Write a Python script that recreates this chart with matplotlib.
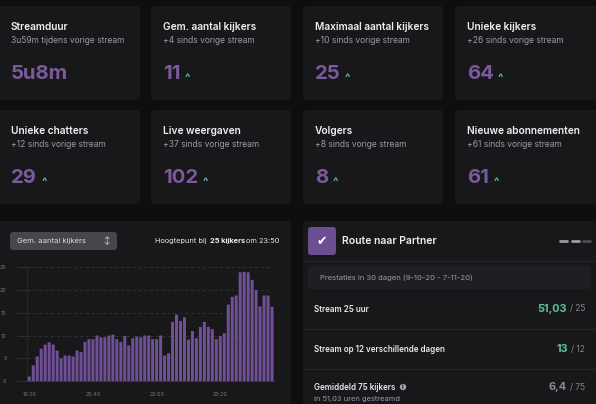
import matplotlib
matplotlib.use('Agg')
import matplotlib.pyplot as plt
from matplotlib.patches import FancyBboxPatch

plt.rcParams['font.family'] = ['Inter', 'DejaVu Sans']

# Stat cards
card_titles = ['Streamduur', 'Gem. aantal kijkers', 'Maximaal aantal kijkers', 'Unieke kijkers',
               'Unieke chatters', 'Live weergaven', 'Volgers', 'Nieuwe abonnementen']
card_subs = ['3u59m tijdens vorige stream', '+4 sinds vorige stream', '+10 sinds vorige stream',
             '+26 sinds vorige stream', '+12 sinds vorige stream', '+37 sinds vorige stream',
             '+8 sinds vorige stream', '+61 sinds vorige stream']
card_values = ['5u8m', '11', '25', '64', '29', '102', '8', '61']

# Viewer chart
viewers = [1, 3.4, 5.4, 7.1, 8, 8.5, 8, 6.7, 5, 5.6, 5.6, 5.4, 6.7, 6.4, 8.6, 9.2, 9.2, 10, 9.6,
           9.6, 10, 10.2, 9.2, 8.6, 9.9, 7.8, 9.4, 9.8, 9.6, 10, 10, 9.2, 9.2, 10, 5.6, 6.1, 13, 14.6,
           13.2, 14, 9.1, 11, 9.4, 11.9, 13, 11.9, 11.4, 9.2, 9.9, 10.5, 16.8, 18.5, 18.8, 23.9, 24,
           23.9, 22.2, 20, 16.4, 18.8, 18.8, 16.3]
y_ticks = [0, 5, 10, 15, 20, 25]
x_tick_pos = [0, 16, 32, 48]
x_tick_labels = ['19:20', '20:40', '22:00', '23:20']

# Partner panel
goal_labels = ['Stream 25 uur', 'Stream op 12 verschillende dagen', 'Gemiddeld 75 kijkers']
goal_values = ['51,03', '13', '6,4']
goal_targets = ['/ 25', '/ 12', '/ 75']

BG = '#0e0e10'
CARD = '#18181b'
PURPLE = '#7a5a9c'
GREEN = '#5fbfa0'
W, H = 596, 404

fig = plt.figure(figsize=(W / 100, H / 100), dpi=100, facecolor=BG)
# pixel coordinates for the page layout, y down
ui = fig.add_axes([0, 0, 1, 1])
ui.set_xlim(0, W)
ui.set_ylim(H, 0)
ui.axis('off')


def box(x, y, w, h, color=CARD, r=3):
    ui.add_patch(FancyBboxPatch((x + r, y + r), w - 2 * r, h - 2 * r,
                                boxstyle='round,pad=%d' % r, fc=color, ec='none'))


card_x = [-5, 151, 303, 455]
text_x = [11, 163, 315, 467]
card_w = [145, 140, 140, 146]
card_y = [6, 110]
for i in range(8):
    col = i % 4
    row = i // 4
    y0 = card_y[row]
    box(card_x[col], y0, card_w[col], 94)
    ui.text(text_x[col], y0 + 20.5, card_titles[i], color='#efeff1', fontsize=7.3, fontweight='semibold', va='center')
    ui.text(text_x[col], y0 + 34.5, card_subs[i], color='#9a9aa2', fontsize=6.1, va='center')
    val = ui.text(text_x[col], y0 + 68, card_values[i], color=PURPLE, fontsize=14.6, fontweight='bold', va='center')
    if i > 0:
        bb = val.get_window_extent(fig.canvas.get_renderer())
        ui.text(bb.x1 + 7, y0 + 72, '^', color=GREEN, fontsize=8, fontweight='bold', va='center', ha='center')

# chart panel
box(-5, 221, 296, 190)
box(10, 232, 107, 18, color='#47474b')
ui.text(17, 241, 'Gem. aantal kijkers', color='#dcdce0', fontsize=5.5, va='center')
ui.text(106, 241, '\u2195', color='#dcdce0', fontsize=5.5, va='center', ha='center')
ui.text(155, 241, 'Hoogtepunt bij', color='#e8e8ea', fontsize=5.3, va='center')
ui.text(209.5, 241, '25 kijkers', color='#efeff1', fontsize=5.3, fontweight='bold', va='center')
ui.text(246.5, 241, 'om 23:50', color='#e8e8ea', fontsize=5.3, va='center')

ax = fig.add_axes([27.3 / W, 1 - 381 / H, (274 - 27.3) / W, (381 - 267.3) / H])
ax.patch.set_alpha(0)
bars = ax.bar(range(len(viewers)), viewers, width=0.76, color='#6f4f96', linewidth=0, zorder=3)
for b in bars:
    b.set_snap(False)
ax.set_xlim(-0.5, len(viewers) - 0.5)
ax.set_ylim(0, 25)
ax.set_yticks(y_ticks)
ax.set_xticks(x_tick_pos)
ax.set_xticklabels(x_tick_labels)
ax.tick_params(colors='#77777c', labelsize=3.9, length=0)
ax.tick_params(axis='x', pad=8)
ax.tick_params(axis='y', pad=8, length=7, color='#333337', width=0.6)
ax.yaxis.grid(True, color='#333337', linestyle=(0, (4, 3)), linewidth=0.6)
ax.set_axisbelow(True)
for s in ['top', 'right']:
    ax.spines[s].set_visible(False)
ax.spines['left'].set_color('#2a2a2e')
ax.spines['left'].set_linewidth(0.6)
ax.spines['bottom'].set_color('#3a3a3e')
ax.spines['bottom'].set_linewidth(0.8)

# partner panel
box(303, 221, 300, 190)
box(308, 227, 28, 28, color='#6c4f93', r=3)
ui.text(322, 241, '\u2714', color='white', fontsize=9, va='center', ha='center', family='DejaVu Sans')
ui.text(342, 241, 'Route naar Partner', color='#efeff1', fontsize=7.5, fontweight='semibold', va='center')
for px, col in zip([559, 570.5, 582], ['#9a9a9f', '#9a9a9f', '#4b4b50']):
    ui.plot([px + 1, px + 8], [240.7, 240.7], color=col, lw=2, solid_capstyle='round')
ui.plot([303, 596], [260.5, 260.5], color='#26262a', lw=0.8)
box(308, 266, 283, 23, color='#1f1f23')
ui.text(320, 277.5, 'Prestaties in 30 dagen (9-10-20 - 7-11-20)', color='#9a9aa2', fontsize=5.5, va='center')

goal_y = [309, 349.5, 387.5]
goal_colors = [GREEN, GREEN, '#8a8a90']
for i in range(3):
    ui.text(314, goal_y[i], goal_labels[i], color='#e8e8ea', fontsize=5.8, fontweight='semibold', va='center')
    t = ui.text(585, goal_y[i], goal_targets[i], color='#85858b', fontsize=6, va='center', ha='right')
    bb = t.get_window_extent(fig.canvas.get_renderer())
    ui.text(bb.x0 - 3, goal_y[i] - 0.5, goal_values[i], color=goal_colors[i], fontsize=7.8,
            fontweight='bold', va='center', ha='right')
for ly in [329, 369]:
    ui.plot([303, 596], [ly, ly], color='#26262a', lw=0.8)
ui.text(314, 398.5, 'in 51,03 uren gestreamd', color='#9a9aa2', fontsize=5.4, va='center')
ui.add_patch(plt.Circle((403, 387), 3.2, fc='#a5a5aa', ec='none'))
ui.text(403, 387, 'i', color=CARD, fontsize=4.5, fontweight='bold', va='center', ha='center')

fig.savefig('out.png', dpi=100, facecolor=BG)
